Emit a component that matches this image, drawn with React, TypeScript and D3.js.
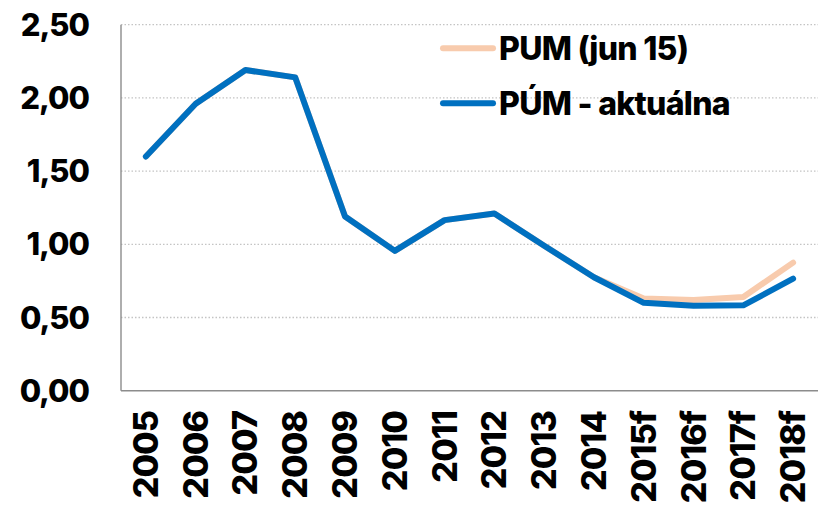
import React from "react";
import * as d3 from "d3";

const categories = ["2005","2006","2007","2008","2009","2010","2011","2012","2013","2014","2015f","2016f","2017f","2018f"];
const pumJun15 = [1.60,1.96,2.19,2.14,1.19,0.955,1.165,1.21,0.99,0.775,0.63,0.62,0.64,0.875];
const pumAktualna = [1.60,1.96,2.19,2.14,1.19,0.955,1.165,1.21,0.99,0.775,0.60,0.58,0.583,0.765];
const yTicks = [0, 0.5, 1, 1.5, 2, 2.5];
const legendLabels = ["PUM (jun 15)", "PÚM - aktuálna"];
const colors = ["#F8CBAD", "#0070C0"];

const W = 827, H = 505;
const left = 121, right = 818, top = 24.7, bottom = 390.7;
const FONT = "Inter, 'Liberation Sans', sans-serif";

export default function App() {
  const x = d3.scaleBand<string>().domain(categories).range([left, right]);
  const y = d3.scaleLinear().domain([0, 2.5]).range([bottom, top]);
  const cx = (c: string) => (x(c) as number) + x.bandwidth() / 2;
  const line = d3.line<number>().x((_, i) => cx(categories[i])).y((v) => y(v));
  const fmt = (v: number) => d3.format(".2f")(v).replace(".", ",");
  const series = [pumJun15, pumAktualna];

  return (
    <svg width={W} height={H} style={{ position: "absolute", left: 0, top: 0, background: "#fff" }}>
      {yTicks.filter((t) => t > 0).map((t) => (
        <line key={"g" + t} x1={left} x2={right} y1={y(t)} y2={y(t)} stroke="#c4c4c4" strokeWidth={1.3} strokeDasharray="1.5 2" />
      ))}
      <line x1={left} x2={left} y1={top} y2={bottom} stroke="#8c8c8c" strokeWidth={1.4} />
      <line x1={left} x2={right} y1={bottom} y2={bottom} stroke="#8c8c8c" strokeWidth={1.4} />
      {yTicks.map((t) => (
        <text key={"t" + t} x={89} y={y(t) + 11} textAnchor="end" fontFamily={FONT} fontWeight={800} fontSize={31} letterSpacing={-1} fill="#000">
          {fmt(t)}
        </text>
      ))}
      {categories.map((c) => (
        <text key={"c" + c} transform={`translate(${cx(c) + 12},${411}) rotate(-90)`} textAnchor="end" fontFamily={FONT} fontWeight={800} fontSize={34} letterSpacing={-0.9} fill="#000">
          {c}
        </text>
      ))}
      {series.map((s, i) => (
        <path key={"s" + i} d={line(s) || ""} fill="none" stroke={colors[i]} strokeWidth={6} strokeLinejoin="round" strokeLinecap="round" />
      ))}
      {legendLabels.map((l, i) => {
        const ly = i === 0 ? 48.3 : 103.3;
        return (
          <g key={"l" + i}>
            <line x1={443} x2={493} y1={ly} y2={ly} stroke={colors[i]} strokeWidth={6} strokeLinecap="round" />
            <text x={499} y={ly + 11.7} fontFamily={FONT} fontWeight={800} fontSize={32} letterSpacing={-0.7} fill="#000">
              {l}
            </text>
          </g>
        );
      })}
    </svg>
  );
}
